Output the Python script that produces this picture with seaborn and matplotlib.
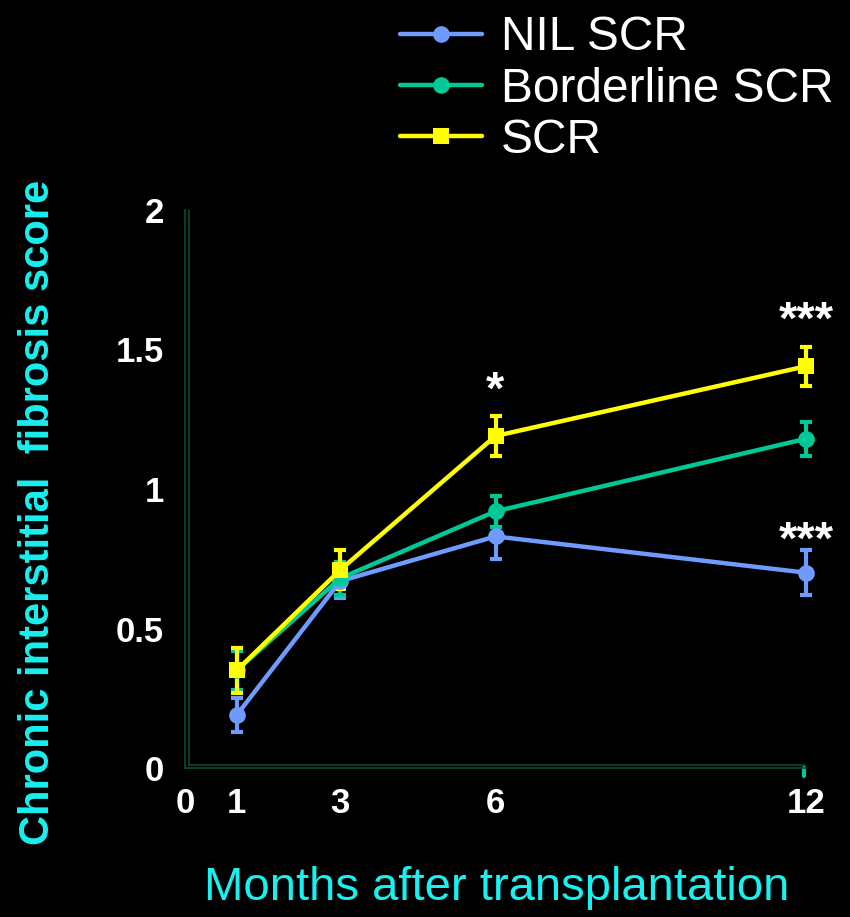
import matplotlib
matplotlib.use("Agg")
import matplotlib.pyplot as plt
import seaborn as sns
import pandas as pd
from matplotlib.lines import Line2D

months = [1, 3, 6, 12]
groups = ["NIL SCR", "Borderline SCR", "SCR"]
nil_mean = [0.19, 0.67, 0.83, 0.70]
nil_sem = [0.06, 0.06, 0.08, 0.08]
border_mean = [0.35, 0.68, 0.92, 1.18]
border_sem = [0.07, 0.06, 0.055, 0.06]
scr_mean = [0.35, 0.71, 1.19, 1.44]
scr_sem = [0.08, 0.07, 0.07, 0.07]

x_ticks = [0, 1, 3, 6, 12]
y_ticks = [0, 0.5, 1, 1.5, 2]
y_tick_labels = ["0", "0.5", "1", "1.5", "2"]
stars = [(6, 1.35, "*"), (12, 1.60, "***"), (12, 0.81, "***")]

colors = {"NIL SCR": "#6f9bff", "Borderline SCR": "#00c896", "SCR": "#ffff00"}
markers = {"NIL SCR": "o", "Borderline SCR": "o", "SCR": "s"}
spine_color = "#0b4a32"

df = pd.DataFrame({
    "month": months * 3,
    "score": nil_mean + border_mean + scr_mean,
    "sem": nil_sem + border_sem + scr_sem,
    "group": [g for g in groups for _ in months],
})

sns.set_theme(style="dark", rc={"axes.facecolor": "black", "figure.facecolor": "black"})
plt.rcParams["font.family"] = ["Liberation Sans", "DejaVu Sans"]

fig = plt.figure(figsize=(8.5, 9.17), dpi=100)
ax = fig.add_axes([185 / 850, 1 - 768 / 917, (806 - 185) / 850, (768 - 210) / 917])
ax.set_facecolor("black")

for g in groups:
    sub = df[df.group == g]
    eb = ax.errorbar(sub.month, sub.score, yerr=sub["sem"], fmt="none",
                     ecolor=colors[g], elinewidth=3, capsize=4, capthick=3, zorder=2)
    for art in eb.lines[1] + eb.lines[2]:
        art.set_clip_on(False)

sns.lineplot(data=df, x="month", y="score", hue="group", style="group",
             palette=colors, markers=markers, dashes=False, linewidth=3.2,
             markersize=12, markeredgewidth=0, ax=ax, legend=False, zorder=3)
for line in ax.lines:
    line.set_clip_on(False)

for xm, ym, s in stars:
    ax.text(xm, ym, s, color="white", fontsize=34, fontweight="bold",
            ha="center", va="center")

ax.set_xlim(0, 12)
ax.set_ylim(0, 2)
ax.set_xticks(x_ticks)
ax.set_xticklabels([str(t) for t in x_ticks])
ax.set_yticks(y_ticks)
ax.set_yticklabels(y_tick_labels)
ax.tick_params(axis="both", colors="white", labelsize=25, length=0)
for lab in ax.get_xticklabels() + ax.get_yticklabels():
    lab.set_fontweight("bold")
ax.tick_params(axis="y", pad=15)
ax.tick_params(axis="x", pad=14)
ax.grid(False)

for side in ["top", "right"]:
    ax.spines[side].set_visible(False)
for side in ["left", "bottom"]:
    ax.spines[side].set_visible(True)
    ax.spines[side].set_color(spine_color)
    ax.spines[side].set_linewidth(1.2)

# inner companion lines of the doubled axis frame
ax.plot([0.08, 0.08], [0.012, 2], color=spine_color, lw=1.2, zorder=1)
ax.plot([0.08, 12], [0.012, 0.012], color=spine_color, lw=1.2, zorder=1)
ax.plot([11.97, 11.97], [0, -0.03], color="#00c896", lw=3, clip_on=False, zorder=1)

ax.set_xlabel("Months after transplantation", color="#19f0f0", fontsize=34)
ax.xaxis.set_label_coords((497 - 185) / 621, -(888 - 768) / 558)
ax.set_ylabel("Chronic interstitial  fibrosis score", color="#19f0f0", fontsize=30,
              fontweight="bold")
ax.yaxis.set_label_coords(-(185 - 38) / 621, (768 - 512) / 558)
ax.xaxis.label.set_va("center")
ax.yaxis.label.set_va("center")

handles = [Line2D([0], [0], color=colors[g], marker=markers[g], linewidth=3.2,
                  markersize=12 if markers[g] == "o" else 11, markeredgewidth=0)
           for g in groups]
leg = fig.legend(handles, groups, loc="upper left", bbox_to_anchor=(381 / 850, 1.004),
                 frameon=False, fontsize=34.5, labelcolor="white", handlelength=1.7,
                 handletextpad=0.4, labelspacing=0.13, borderaxespad=0.0)

fig.savefig("out.png", dpi=100, facecolor="black")
